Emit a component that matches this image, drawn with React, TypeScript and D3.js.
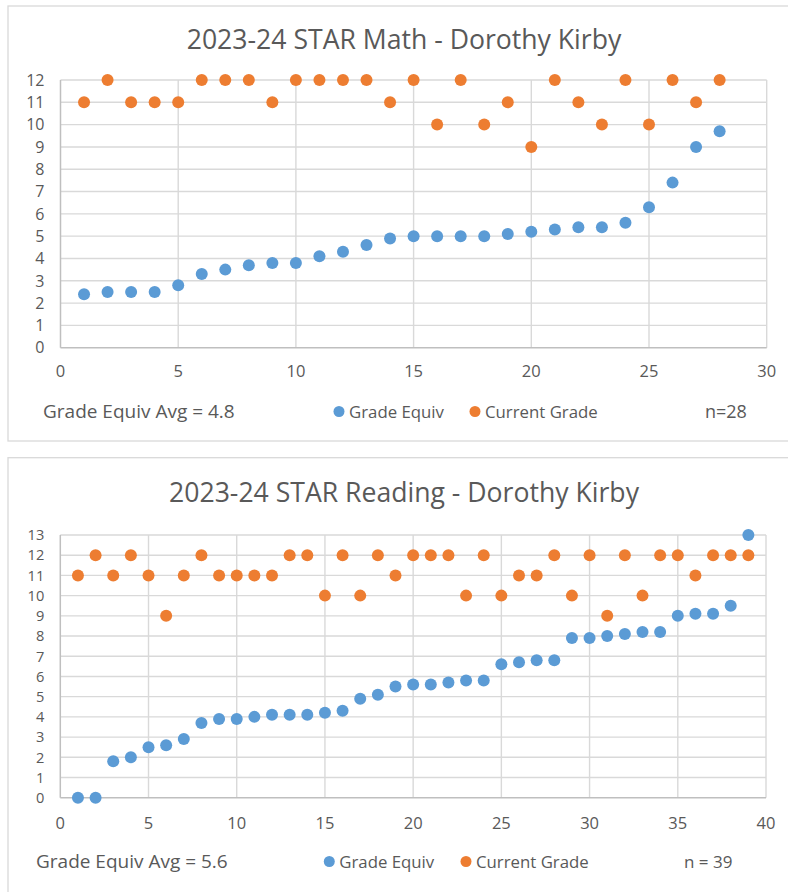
import React from "react";
import * as d3 from "d3";

// ---------- DATA ----------
const mathTitle = "2023-24 STAR Math - Dorothy Kirby";
const mathGradeEquiv = [2.4, 2.5, 2.5, 2.5, 2.8, 3.3, 3.5, 3.7, 3.8, 3.8, 4.1, 4.3, 4.6, 4.9, 5.0, 5.0, 5.0, 5.0, 5.1, 5.2, 5.3, 5.4, 5.4, 5.6, 6.3, 7.4, 9.0, 9.7];
const mathCurrentGrade = [11, 12, 11, 11, 11, 12, 12, 12, 11, 12, 12, 12, 12, 11, 12, 10, 12, 10, 11, 9, 12, 11, 10, 12, 10, 12, 11, 12];
const mathXTicks = [0, 5, 10, 15, 20, 25, 30];
const mathYTicks = [0, 1, 2, 3, 4, 5, 6, 7, 8, 9, 10, 11, 12];
const mathAvgLabel = "Grade Equiv Avg = 4.8";
const mathNLabel = "n=28";

const readingTitle = "2023-24 STAR Reading - Dorothy Kirby";
const readingGradeEquiv = [0, 0, 1.8, 2.0, 2.5, 2.6, 2.9, 3.7, 3.9, 3.9, 4.0, 4.1, 4.1, 4.1, 4.2, 4.3, 4.9, 5.1, 5.5, 5.6, 5.6, 5.7, 5.8, 5.8, 6.6, 6.7, 6.8, 6.8, 7.9, 7.9, 8.0, 8.1, 8.2, 8.2, 9.0, 9.1, 9.1, 9.5, 13.0];
const readingCurrentGrade = [11, 12, 11, 12, 11, 9, 11, 12, 11, 11, 11, 11, 12, 12, 10, 12, 10, 12, 11, 12, 12, 12, 10, 12, 10, 11, 11, 12, 10, 12, 9, 12, 10, 12, 12, 11, 12, 12, 12];
const readingXTicks = [0, 5, 10, 15, 20, 25, 30, 35, 40];
const readingYTicks = [0, 1, 2, 3, 4, 5, 6, 7, 8, 9, 10, 11, 12, 13];
const readingAvgLabel = "Grade Equiv Avg = 5.6";
const readingNLabel = "n = 39";

const seriesNames = ["Grade Equiv", "Current Grade"];
const seriesColors = ["#5B9BD5", "#ED7D31"];

// ---------- STYLE ----------
const FONT = "'Open Sans', 'Noto Sans', sans-serif";
const TEXT = "#595959";
const GRID = "#d9d9d9";
const AXIS = "#bfbfbf";

type Layout = {
  boxY: number; boxH: number;
  x0: number; x1: number; yTop: number; yBot: number;
  titleY: number; xLabelY: number; yTickSize: number;
  legY: number; avgX: number; leg1X: number; leg2X: number; nX: number; nSize: number;
};

function Chart(props: {
  title: string; ge: number[]; cg: number[]; xTicks: number[]; yTicks: number[];
  avg: string; n: string; L: Layout;
}) {
  const { title, ge, cg, xTicks, yTicks, avg, n, L } = props;
  const x = d3.scaleLinear().domain([0, d3.max(xTicks) as number]).range([L.x0, L.x1]);
  const y = d3.scaleLinear().domain([0, d3.max(yTicks) as number]).range([L.yBot, L.yTop]);
  const series = [ge, cg];
  return (
    <g>
      <rect x={8} y={L.boxY} width={790} height={L.boxH} fill="#fff" stroke={GRID} strokeWidth={1.3} />
      <text x={404} y={L.titleY} textAnchor="middle" fontSize={26.6} fill={TEXT} fontFamily={FONT}>{title}</text>
      {yTicks.filter((t) => t > 0).map((t) => (
        <line key={"h" + t} x1={x(0)} x2={x.range()[1]} y1={y(t)} y2={y(t)} stroke={GRID} strokeWidth={1.4} />
      ))}
      {xTicks.filter((t) => t > 0).map((t) => (
        <line key={"v" + t} x1={x(t)} x2={x(t)} y1={y.range()[0]} y2={y.range()[1]} stroke={GRID} strokeWidth={1.4} />
      ))}
      <line x1={x(0)} x2={x(0)} y1={y.range()[0]} y2={y.range()[1]} stroke={AXIS} strokeWidth={1.5} />
      <line x1={x(0)} x2={x.range()[1]} y1={y(0)} y2={y(0)} stroke={AXIS} strokeWidth={1.5} />
      {yTicks.map((t) => (
        <text key={"yl" + t} x={x(0) - 16} y={y(t)} dy="0.36em" textAnchor="end" fontSize={L.yTickSize} fill={TEXT} fontFamily={FONT}>{t}</text>
      ))}
      {xTicks.map((t) => (
        <text key={"xl" + t} x={x(t)} y={L.xLabelY} textAnchor="middle" fontSize={16.5} fill={TEXT} fontFamily={FONT}>{t}</text>
      ))}
      {series.map((s, si) =>
        s.map((v, i) => (
          <circle key={si + "-" + i} cx={x(i + 1)} cy={y(v)} r={6} fill={seriesColors[si]} />
        ))
      )}
      <text x={L.avgX} y={L.legY} dy="0.36em" fontSize={19} fill={TEXT} fontFamily={FONT}>{avg}</text>
      {[L.leg1X, L.leg2X].map((lx, i) => (
        <g key={"leg" + i}>
          <circle cx={lx} cy={L.legY} r={5.5} fill={seriesColors[i]} />
          <text x={lx + 10} y={L.legY} dy="0.36em" fontSize={16.8} fill={TEXT} fontFamily={FONT}>{seriesNames[i]}</text>
        </g>
      ))}
      <text x={L.nX} y={L.legY} dy="0.36em" fontSize={L.nSize} fill={TEXT} fontFamily={FONT}>{n}</text>
    </g>
  );
}

const mathLayout: Layout = {
  boxY: 6, boxH: 435,
  x0: 60.5, x1: 766.7, yTop: 80, yBot: 347.7,
  titleY: 49, xLabelY: 377, yTickSize: 16,
  legY: 411.5, avgX: 43, leg1X: 339, leg2X: 475, nX: 705, nSize: 18,
};
const readingLayout: Layout = {
  boxY: 457.7, boxH: 450,
  x0: 60.3, x1: 766, yTop: 535, yBot: 797.7,
  titleY: 501.5, xLabelY: 828.5, yTickSize: 14.6,
  legY: 861.5, avgX: 36, leg1X: 329.3, leg2X: 466, nX: 684, nSize: 17,
};

export default function App() {
  return (
    <svg width={788} height={892} style={{ position: "absolute", left: 0, top: 0, background: "#fff" }}>
      <rect x={0} y={0} width={788} height={892} fill="#fff" />
      <Chart title={mathTitle} ge={mathGradeEquiv} cg={mathCurrentGrade} xTicks={mathXTicks} yTicks={mathYTicks} avg={mathAvgLabel} n={mathNLabel} L={mathLayout} />
      <Chart title={readingTitle} ge={readingGradeEquiv} cg={readingCurrentGrade} xTicks={readingXTicks} yTicks={readingYTicks} avg={readingAvgLabel} n={readingNLabel} L={readingLayout} />
    </svg>
  );
}
